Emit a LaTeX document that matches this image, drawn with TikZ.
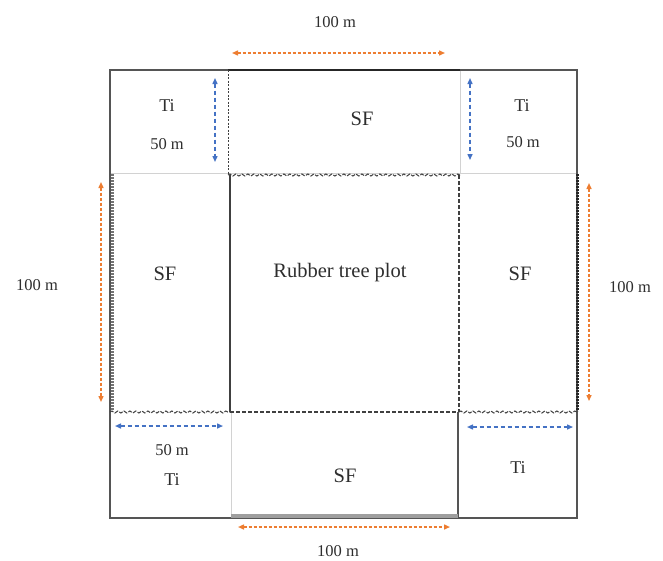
\documentclass[tikz,border=0pt]{standalone}
\usepackage{fontspec}
\setmainfont{Liberation Serif}
\usetikzlibrary{arrows.meta,decorations.pathmorphing}
\definecolor{dimorange}{HTML}{ED7D31}
\definecolor{dimblue}{HTML}{4472C4}
\definecolor{edgegray}{HTML}{555555}
\definecolor{txt}{HTML}{2E2E2E}
\begin{document}
\begin{tikzpicture}[x=1pt,y=-1pt,
  outline/.style={draw=edgegray, line width=1.4pt},
  faint/.style={draw=gray!35, line width=1pt},
  wavy/.style={draw=black!75, line width=1pt, dash pattern=on 4pt off 1.5pt,
     decorate, decoration={snake, amplitude=1pt, segment length=6pt}},
  dashline/.style={draw=black!75, line width=1.2pt, dash pattern=on 4pt off 2pt},
  ladder/.style={line width=3pt, dash pattern=on 1.6pt off 1.4pt},
  dimo/.style={draw=dimorange, line width=1.4pt, dash pattern=on 3pt off 2pt, {Triangle[length=6pt,width=5pt]}-{Triangle[length=6pt,width=5pt]}},
  dimb/.style={draw=dimblue, line width=1.4pt, dash pattern=on 4pt off 3pt, {Triangle[length=6pt,width=5pt]}-{Triangle[length=6pt,width=5pt]}},
  big/.style={text=txt, font=\fontsize{20.5}{24}\selectfont},
  mid/.style={text=txt, font=\fontsize{18}{22}\selectfont},
  small/.style={text=txt, font=\fontsize{16.5}{20}\selectfont}
]
\useasboundingbox (0,0) rectangle (663,560);

% corner coordinates
\coordinate (tl) at (110,70);
\coordinate (br) at (577,518);

% faint lines
\draw[faint] (110,173) -- (577,173);
\draw[faint] (460,70) -- (460,173);
\draw[faint] (231,412) -- (231,517);

% outer frame
\draw[outline] (tl) rectangle (br);

% top SF
\draw[draw=black!85, line width=2.4pt] (228,70) -- (460,70);
\draw[dashline, line width=1pt, dash pattern=on 2pt off 1.5pt] (228,70) -- (228,174);
\draw[wavy] (228,175) -- (460,175);

% rubber plot
\draw[draw=black!75, line width=1.4pt] (230,175) -- (230,412);
\draw[dashline] (459,175) -- (459,412);

% side SF edges
\draw[ladder, draw=black!55] (112,174) -- (112,411);
\draw[ladder, draw=black!85] (577,174) -- (577,411);

% bottom row top
\draw[wavy] (110,412) -- (230,412);
\draw[dashline] (230,412) -- (459,412);
\draw[wavy] (459,412) -- (577,412);

% bottom SF
\draw[outline] (458,412) -- (458,518);
\draw[draw=gray!75, line width=3.5pt] (231,516) -- (458,516);

% dimension arrows
\coordinate (ot1) at (232,53);  \coordinate (ot2) at (445,53);
\coordinate (ol1) at (101,182); \coordinate (ol2) at (101,402);
\coordinate (or1) at (589,183); \coordinate (or2) at (589,401);
\coordinate (ob1) at (238,527); \coordinate (ob2) at (450,527);
\coordinate (btl1) at (215,78); \coordinate (btl2) at (215,162);
\coordinate (btr1) at (470,78); \coordinate (btr2) at (470,160);
\coordinate (bbl1) at (115,426); \coordinate (bbl2) at (223,426);
\coordinate (bbr1) at (467,427); \coordinate (bbr2) at (573,427);
\draw[dimo] (ot1) -- (ot2);
\draw[dimo] (ol1) -- (ol2);
\draw[dimo] (or1) -- (or2);
\draw[dimo] (ob1) -- (ob2);
\draw[dimb] (btl1) -- (btl2);
\draw[dimb] (btr1) -- (btr2);
\draw[dimb] (bbl1) -- (bbl2);
\draw[dimb] (bbr1) -- (bbr2);

% labels
\node[small] (ltop) at (335,22) {100 m};
\node[small] (lleft) at (37,285) {100 m};
\node[small] (lright) at (630,287) {100 m};
\node[small] (lbot) at (338,551) {100 m};

\node[mid] (ti1) at (167,106) {Ti};
\node[small] (m1) at (167,144) {50 m};
\node[mid] (ti2) at (522,106) {Ti};
\node[small] (m2) at (523,142) {50 m};
\node[small] (m3) at (172,450) {50 m};
\node[mid] (ti3) at (172,480) {Ti};
\node[mid] (ti4) at (518,468) {Ti};

\node[big] (sf1) at (362,119) {SF};
\node[big] (sf2) at (165,274) {SF};
\node[big] (sf3) at (520,274) {SF};
\node[big] (sf4) at (345,476) {SF};
\node[big] (rub) at (340,273) {Rubber tree plot};
\end{tikzpicture}
\end{document}
